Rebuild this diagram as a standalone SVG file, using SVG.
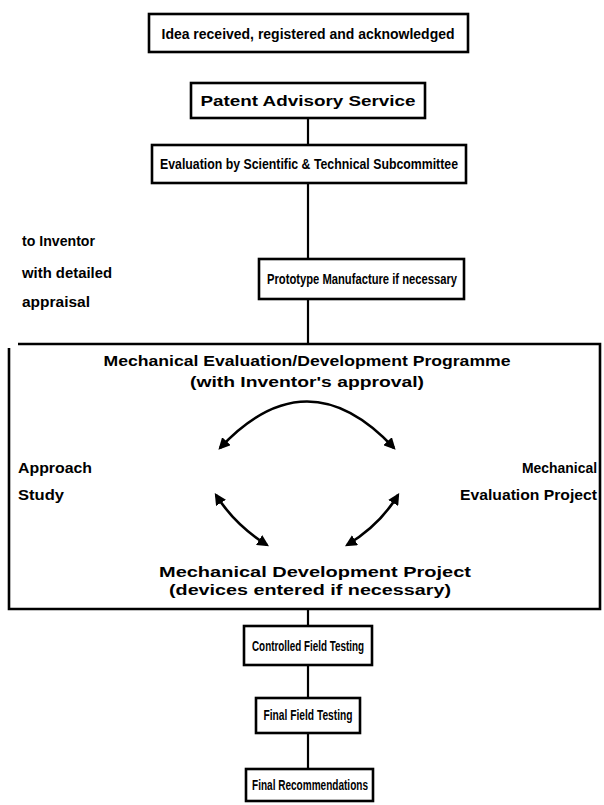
<svg xmlns="http://www.w3.org/2000/svg" width="604" height="805" viewBox="0 0 604 805">
<defs>
<style>
.box{fill:#fff;stroke:#000;stroke-width:2.6}
.frame{fill:none;stroke:#000;stroke-width:2.6}
.t{font-family:"Liberation Sans",Arial,sans-serif;font-weight:bold;font-size:15px;fill:#000}
.c{text-anchor:middle}
.r{text-anchor:end}
.ln{fill:none;stroke:#000;stroke-width:2.2}
.ar{fill:none;stroke:#000;stroke-width:2.6;marker-start:url(#ah);marker-end:url(#ah)}
</style>
<marker id="ah" viewBox="0 0 10 10" refX="8" refY="5" markerWidth="4.5" markerHeight="4.5" orient="auto-start-reverse">
<path d="M0,0 L10,5 L0,10 Z" fill="#000"/>
</marker>
</defs>
<rect width="604" height="805" fill="#fff"/>
<g id="connectors">
<line class="ln" x1="308" y1="118" x2="308" y2="145"/>
<line class="ln" x1="308" y1="183" x2="308" y2="259"/>
<line class="ln" x1="308" y1="299" x2="308" y2="343"/>
<line class="ln" x1="308" y1="609" x2="308" y2="626"/>
<line class="ln" x1="308" y1="665" x2="308" y2="698"/>
<line class="ln" x1="308" y1="733" x2="308" y2="769"/>
<path class="ar" d="M220,448 Q307,355 394,448"/>
<path class="ar" d="M216,495 Q235,525 267,545"/>
<path class="ar" d="M398,495 Q380,525 347,545"/>
</g>
<g id="n1"><rect class="box" x="149" y="14" width="319" height="38"/><text class="t c" x="308" y="39" textLength="293" lengthAdjust="spacingAndGlyphs">Idea received, registered and acknowledged</text></g>
<g id="n2"><rect class="box" x="191" y="83" width="234" height="35"/><text class="t c" x="308" y="106" textLength="215" lengthAdjust="spacingAndGlyphs">Patent Advisory Service</text></g>
<g id="n3"><rect class="box" x="152" y="145" width="314" height="38"/><text class="t c" x="309" y="169" textLength="298" lengthAdjust="spacingAndGlyphs">Evaluation by Scientific &amp; Technical Subcommittee</text></g>
<g id="n4"><text class="t" x="22" y="246" textLength="73" lengthAdjust="spacingAndGlyphs">to Inventor</text><text class="t" x="22" y="278" textLength="90" lengthAdjust="spacingAndGlyphs">with detailed</text><text class="t" x="22" y="307" textLength="68" lengthAdjust="spacingAndGlyphs">appraisal</text></g>
<g id="n5"><rect class="box" x="259" y="259" width="205" height="40"/><text class="t c" x="362" y="284" textLength="190" lengthAdjust="spacingAndGlyphs">Prototype Manufacture if necessary</text></g>
<g id="n6"><path class="frame" d="M18,344 L600,344 L600,609 L9,609 L9,348"/><text class="t c" x="307" y="366" textLength="407" lengthAdjust="spacingAndGlyphs">Mechanical Evaluation/Development Programme</text><text class="t c" x="307" y="387" textLength="234" lengthAdjust="spacingAndGlyphs">(with Inventor's approval)</text></g>
<g id="n7"><text class="t" x="18" y="473" textLength="74" lengthAdjust="spacingAndGlyphs">Approach</text><text class="t" x="18" y="500" textLength="46" lengthAdjust="spacingAndGlyphs">Study</text></g>
<g id="n8"><text class="t r" x="597" y="473" textLength="75" lengthAdjust="spacingAndGlyphs">Mechanical</text><text class="t r" x="597" y="500" textLength="137" lengthAdjust="spacingAndGlyphs">Evaluation Project</text></g>
<g id="n9"><text class="t c" x="315" y="577" textLength="312" lengthAdjust="spacingAndGlyphs">Mechanical Development Project</text><text class="t c" x="310" y="595" textLength="282" lengthAdjust="spacingAndGlyphs">(devices entered if necessary)</text></g>
<g id="n10"><rect class="box" x="244" y="626" width="128" height="39"/><text class="t c" x="308" y="651" textLength="112" lengthAdjust="spacingAndGlyphs">Controlled Field Testing</text></g>
<g id="n11"><rect class="box" x="256" y="698" width="104" height="35"/><text class="t c" x="308" y="720" textLength="89" lengthAdjust="spacingAndGlyphs">Final Field Testing</text></g>
<g id="n12"><rect class="box" x="246" y="769" width="127" height="32"/><text class="t c" x="310" y="790" textLength="116" lengthAdjust="spacingAndGlyphs">Final Recommendations</text></g>
</svg>
